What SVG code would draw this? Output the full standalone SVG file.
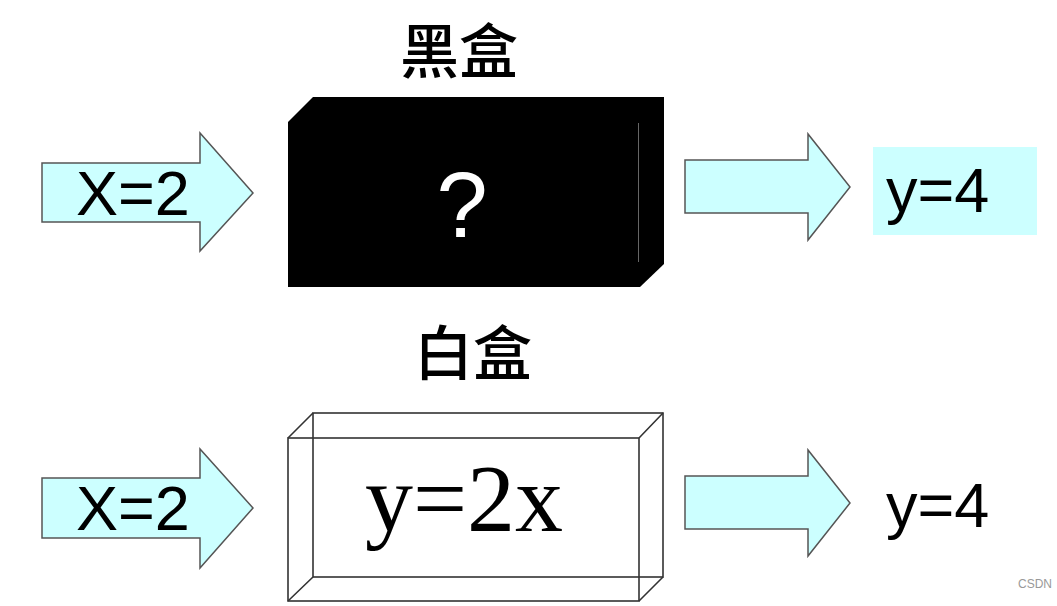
<svg xmlns="http://www.w3.org/2000/svg" width="1057" height="606" viewBox="0 0 1057 606">
<style>
.arrow{fill:#ccffff;stroke:#555;stroke-width:1.5;stroke-linejoin:miter}
.lbl{font-family:"Liberation Sans",Arial,sans-serif;font-size:63px;fill:#000}
.title{font-family:"Noto Sans CJK SC",sans-serif;font-size:59px;font-weight:500;fill:#000;text-anchor:middle}
.wire{fill:none;stroke:#333;stroke-width:1.6}
</style>
<rect width="1057" height="606" fill="#fff"/>
<g id="title-black"><text class="title" x="459" y="73">黑盒</text></g>
<g id="title-white"><text class="title" x="473" y="375">白盒</text></g>
<g id="black-box">
<polygon points="313,97 664,97 664,264 640,287 288,287 288,122" fill="#000"/>
<line x1="638.5" y1="123" x2="638.5" y2="262" stroke="#666" stroke-width="1"/>
<text x="462" y="237" font-family="Liberation Sans,Arial,sans-serif" font-size="92" font-weight="300" fill="#fff" text-anchor="middle">?</text>
</g>
<g id="white-box">
<rect class="wire" x="313" y="413" width="350" height="164"/>
<rect class="wire" x="288" y="438" width="351" height="163"/>
<path class="wire" d="M288,438 L313,413 M639,438 L663,413 M639,601 L663,577 M288,601 L313,577"/>
<text x="464" y="531" font-family="Liberation Serif,Times New Roman,serif" font-size="96" fill="#000" text-anchor="middle">y=2x</text>
</g>
<g id="input-top">
<polygon class="arrow" points="42,163 200,163 200,133 253,193 200,251 200,222 42,222"/>
<text class="lbl" x="76" y="215">X=2</text>
</g>
<g id="input-bottom">
<polygon class="arrow" points="42,478 200,478 200,449 253,508 200,568 200,538 42,538"/>
<text class="lbl" x="76" y="530">X=2</text>
</g>
<g id="output-top">
<rect x="873" y="147" width="164" height="88" fill="#ccffff"/>
<text class="lbl" x="886" y="212">y=4</text>
</g>
<g id="output-bottom">
<text class="lbl" x="886" y="527">y=4</text>
</g>
<g id="connectors">
<polygon class="arrow" points="685,160 808,160 808,134 850,187 808,240 808,213 685,213"/>
<polygon class="arrow" points="685,476 808,476 808,450 850,503 808,556 808,529 685,529"/>
</g>
<text x="1052" y="588" font-family="Liberation Sans,Arial,sans-serif" font-size="12" fill="#999" text-anchor="end">CSDN</text>
</svg>
